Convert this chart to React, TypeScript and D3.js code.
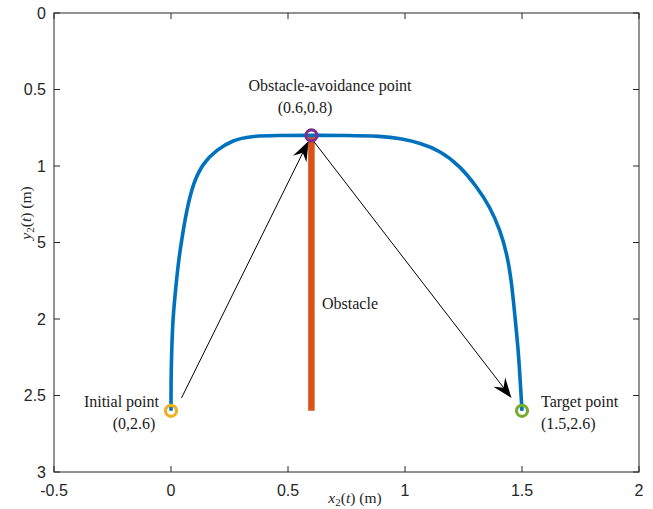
import React from 'react'
import { scaleLinear, line, curveBasis } from 'd3'

// axis ticks (the "1.5" label reads "5" in the figure)
const xTicks = [-0.5, 0, 0.5, 1, 1.5, 2]
const xTickLabels = ['-0.5', '0', '0.5', '1', '1.5', '2']
const yTicks = [0, 0.5, 1, 1.5, 2, 2.5, 3]
const yTickLabels = ['0', '0.5', '1', '5', '2', '2.5', '3']

// trajectory
const pathX = [0, 0, 0.003, 0.008, 0.017, 0.031, 0.05, 0.067, 0.095, 0.137, 0.195, 0.265, 0.34, 0.45, 0.6, 0.75, 0.9, 0.98, 1.064, 1.15, 1.235, 1.306, 1.363, 1.406, 1.435, 1.455, 1.47, 1.484, 1.493, 1.5, 1.5]
const pathY = [2.6, 2.4, 2.2, 2.0, 1.85, 1.63, 1.44, 1.29, 1.11, 0.98, 0.895, 0.83, 0.805, 0.8, 0.8, 0.8, 0.805, 0.82, 0.85, 0.9, 1.0, 1.135, 1.266, 1.418, 1.569, 1.75, 1.985, 2.2, 2.42, 2.6, 2.6]

// obstacle segment
const obstacleX = [0.6, 0.6]
const obstacleY = [0.8, 2.6]

// key points
const pointX = [0, 0.6, 1.5]
const pointY = [2.6, 0.8, 2.6]
const pointColors = ['#EDB120', '#7E2F8E', '#77AC30']

// arrows: start -> end
const arrowX1 = [0.045, 0.609]
const arrowY1 = [2.516, 0.837]
const arrowX2 = [0.588, 1.455]
const arrowY2 = [0.837, 2.516]

const W = 653, H = 509
const margin = { left: 54, right: 14, top: 13, bottom: 37 }

export default function App() {
  const x = scaleLinear().domain([-0.5, 2]).range([margin.left, W - margin.right])
  const y = scaleLinear().domain([0, 3]).range([margin.top, H - margin.bottom])
  const x0 = margin.left, x1 = W - margin.right, y0 = margin.top, y1 = H - margin.bottom
  const axisColor = '#262626'
  const tickLen = 6

  // repeat the first point so the basis curve starts exactly at (0, 2.6)
  const idx = [0, ...pathX.map((_, i) => i)]
  const traj = line<number>()
    .x(i => x(pathX[i]))
    .y(i => y(pathY[i]))
    .curve(curveBasis)(idx)

  const arrowHead = (ax: number, ay: number, bx: number, by: number) => {
    const sx = x(ax), sy = y(ay), ex = x(bx), ey = y(by)
    const ang = Math.atan2(ey - sy, ex - sx)
    const L = 20, hw = 7.5, notch = 13
    const c = Math.cos(ang), s = Math.sin(ang)
    const p = (u: number, v: number) => `${ex + u * c - v * s},${ey + u * s + v * c}`
    return {
      shaft: { x1: sx, y1: sy, x2: ex - notch * c, y2: ey - notch * s },
      head: [p(0, 0), p(-L, hw), p(-notch, 0), p(-L, -hw)].join(' ')
    }
  }

  const serif = '"Liberation Serif", "Times New Roman", serif'
  const sans = '"Liberation Sans", Arial, Helvetica, sans-serif'

  return (
    <svg width={W} height={H} style={{ position: 'absolute', left: 0, top: 0, background: '#fff' }}>
      <rect x={0} y={0} width={W} height={H} fill="#fff" />

      {/* obstacle */}
      <line x1={x(obstacleX[0])} y1={y(obstacleY[0])} x2={x(obstacleX[1])} y2={y(obstacleY[1])}
        stroke="#D95319" strokeWidth={6.5} />

      {/* trajectory */}
      <path d={traj || ''} fill="none" stroke="#0072BD" strokeWidth={3.6} strokeLinejoin="round" />

      {/* arrows */}
      {arrowX1.map((_, i) => {
        const a = arrowHead(arrowX1[i], arrowY1[i], arrowX2[i], arrowY2[i])
        return (
          <g key={i}>
            <line {...a.shaft} stroke="#000" strokeWidth={1} />
            <polygon points={a.head} fill="#000" />
          </g>
        )
      })}

      {/* key point rings */}
      {pointX.map((px, i) => (
        <circle key={i} cx={x(px)} cy={y(pointY[i])} r={5.5} fill="none"
          stroke={pointColors[i]} strokeWidth={3.2} />
      ))}

      {/* annotations */}
      <g fontFamily={serif} fontSize={16} fill="#1a1a1a">
        <text x={330} y={91} textAnchor="middle">Obstacle-avoidance point</text>
        <text x={305} y={113} textAnchor="middle">(0.6,0.8)</text>
        <text x={159} y={407} textAnchor="end">Initial point</text>
        <text x={134} y={429} textAnchor="middle">(0,2.6)</text>
        <text x={541} y={407}>Target point</text>
        <text x={541} y={429}>(1.5,2.6)</text>
        <text x={322} y={309}>Obstacle</text>
      </g>

      {/* axes box */}
      <rect x={x0} y={y0} width={x1 - x0} height={y1 - y0} fill="none" stroke={axisColor} strokeWidth={1} />
      {xTicks.map((t, i) => (
        <g key={'xt' + i}>
          <line x1={x(t)} x2={x(t)} y1={y1} y2={y1 - tickLen} stroke={axisColor} />
          <line x1={x(t)} x2={x(t)} y1={y0} y2={y0 + tickLen} stroke={axisColor} />
          <text x={x(t)} y={y1 + 24} textAnchor="middle" fontFamily={sans} fontSize={16} fill={axisColor}>
            {xTickLabels[i]}
          </text>
        </g>
      ))}
      {yTicks.map((t, i) => (
        <g key={'yt' + i}>
          <line x1={x0} x2={x0 + tickLen} y1={y(t)} y2={y(t)} stroke={axisColor} />
          <line x1={x1} x2={x1 - tickLen} y1={y(t)} y2={y(t)} stroke={axisColor} />
          <text x={x0 - 8} y={y(t)} dy="0.36em" textAnchor="end" fontFamily={sans} fontSize={16} fill={axisColor}>
            {yTickLabels[i]}
          </text>
        </g>
      ))}

      {/* axis labels */}
      <text x={355} y={503} textAnchor="middle" fontFamily={serif} fontSize={15.5} fill={axisColor}>
        <tspan fontStyle="italic">x</tspan>
        <tspan fontSize={11} dy={3}>2</tspan>
        <tspan dy={-3}>(</tspan>
        <tspan fontStyle="italic">t</tspan>
        <tspan>) (m)</tspan>
      </text>
      <text transform={`translate(31,${213}) rotate(-90)`} textAnchor="middle" fontFamily={serif} fontSize={15.5} fill={axisColor}>
        <tspan fontStyle="italic">y</tspan>
        <tspan fontSize={11} dy={3}>2</tspan>
        <tspan dy={-3}>(</tspan>
        <tspan fontStyle="italic">t</tspan>
        <tspan>) (m)</tspan>
      </text>
    </svg>
  )
}
